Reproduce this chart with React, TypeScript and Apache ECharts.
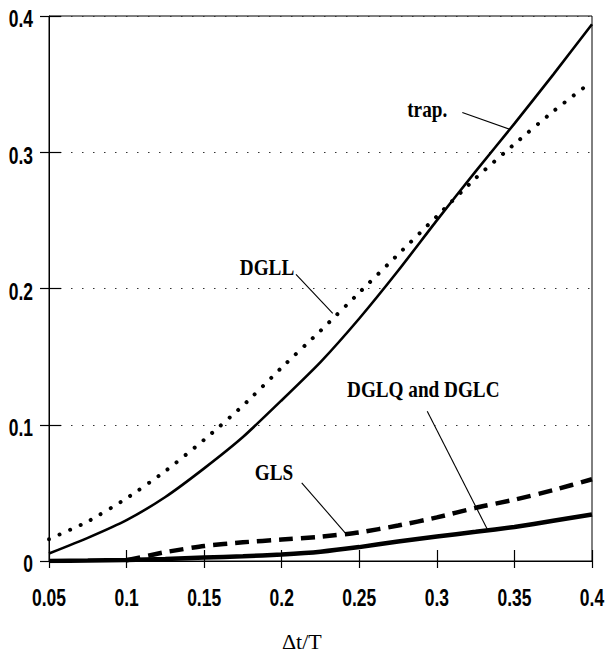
import React, { useEffect, useRef } from "react";
import * as echarts from "echarts";

// Δt/T sample positions
const xValues = [0.05, 0.075, 0.1, 0.125, 0.15, 0.175, 0.2, 0.225, 0.25, 0.275, 0.3, 0.325, 0.35, 0.375, 0.4];
// trapezoidal rule (thin solid)
const trapValues = [0.0055, 0.017, 0.03, 0.047, 0.068, 0.091, 0.118, 0.146, 0.178, 0.213, 0.25, 0.286, 0.321, 0.357, 0.394];
// DGLL (dotted)
const dgllValues = [0.016, 0.029, 0.046, 0.066, 0.089, 0.114, 0.142, 0.169, 0.197, 0.225, 0.253, 0.281, 0.306, 0.33, 0.352];
// GLS (dashed)
const glsValues = [null, null, 0.0005, 0.0065, 0.011, 0.0137, 0.0157, 0.0178, 0.021, 0.026, 0.032, 0.039, 0.045, 0.052, 0.06];
// DGLQ and DGLC (thick solid)
const dglqcValues = [0.0, 0.0003, 0.0008, 0.0015, 0.0025, 0.0035, 0.0048, 0.0068, 0.0102, 0.0143, 0.018, 0.0214, 0.025, 0.0295, 0.0341];

const xTickValues = [0.05, 0.1, 0.15, 0.2, 0.25, 0.3, 0.35, 0.4];
const xTickLabels = ["0.05", "0.1", "0.15", "0.2", "0.25", "0.3", "0.35", "0.4"];
const yTickValues = [0, 0.1, 0.2, 0.3, 0.4];
const yTickLabels = ["0", "0.1", "0.2", "0.3", "0.4"];
const xAxisTitle = "Δt/T";

// annotations (data coordinates)
const annotationTexts = ["trap.", "DGLL", "DGLQ and DGLC", "GLS"];
const annotationAt = [
  [0.2809, 0.3314],
  [0.173, 0.2154],
  [0.2421, 0.1259],
  [0.1827, 0.065],
];
const leaderFrom = [
  [0.3164, 0.3292],
  [0.2092, 0.2103],
  [0.2938, 0.1099],
  [0.2129, 0.0574],
];
const leaderTo = [
  [0.3474, 0.3167],
  [0.2329, 0.1817],
  [0.3326, 0.0231],
  [0.2409, 0.0207],
];

const pairs = (ys: (number | null)[]) =>
  xValues.map((x, i) => [x, ys[i]]).filter((p) => p[1] !== null);

const tickFont = "'Liberation Sans', Arial, sans-serif";
const serif = "'Liberation Serif', 'Times New Roman', serif";

export default function App() {
  const ref = useRef<HTMLDivElement>(null);

  useEffect(() => {
    if (!ref.current) return;
    const chart = echarts.init(ref.current, null, { renderer: "svg" });

    const baseX = {
      type: "value" as const,
      min: 0.05,
      max: 0.4,
      interval: 0.05,
      position: "bottom" as const,
      gridIndex: 0,
    };
    const baseY = {
      type: "value" as const,
      min: 0,
      max: 0.4,
      interval: 0.1,
      position: "left" as const,
      gridIndex: 0,
    };

    chart.setOption({
      animation: false,
      backgroundColor: "#fff",
      grid: {
        left: 49,
        right: 13,
        top: 16,
        bottom: 94,
        show: true,
        borderColor: "#000",
        borderWidth: 1,
        backgroundColor: "transparent",
      },
      xAxis: [
        {
          ...baseX,
          axisLine: { show: true, lineStyle: { color: "#000", width: 1 } },
          axisTick: { show: true, inside: false, length: 7, lineStyle: { color: "#000", width: 1.2 } },
          axisLabel: { show: false },
          splitLine: { show: false },
        },
        {
          ...baseX,
          axisLine: { show: false },
          axisTick: { show: true, inside: true, length: 11, lineStyle: { color: "#000", width: 1.2 } },
          axisLabel: { show: false },
          splitLine: { show: false },
        },
      ],
      yAxis: [
        {
          ...baseY,
          axisLine: { show: true, lineStyle: { color: "#000", width: 1 } },
          axisTick: { show: true, inside: false, length: 9, lineStyle: { color: "#000", width: 1.2 } },
          axisLabel: { show: false },
          splitLine: {
            show: true,
            lineStyle: { color: "#333", width: 1, type: [1.5, 9.5] },
          },
        },
        {
          ...baseY,
          axisLine: { show: false },
          axisTick: { show: true, inside: true, length: 12, lineStyle: { color: "#000", width: 1.2 } },
          axisLabel: { show: false },
          splitLine: { show: false },
        },
      ],
      series: [
        {
          name: "trap.",
          type: "line",
          xAxisIndex: 0,
          yAxisIndex: 0,
          data: pairs(trapValues),
          showSymbol: false,
          smooth: 0.2,
          lineStyle: { color: "#000", width: 2.6 },
        },
        {
          name: "DGLL",
          type: "line",
          xAxisIndex: 0,
          yAxisIndex: 0,
          data: pairs(dgllValues),
          showSymbol: false,
          smooth: 0.2,
          lineStyle: { color: "#000", width: 4, type: [0.01, 11.5], cap: "round" },
        },
        {
          name: "GLS",
          type: "line",
          xAxisIndex: 0,
          yAxisIndex: 0,
          data: pairs(glsValues),
          showSymbol: false,
          smooth: 0.2,
          lineStyle: { color: "#000", width: 4.5, type: [14, 8] },
        },
        {
          name: "DGLQ and DGLC",
          type: "line",
          xAxisIndex: 0,
          yAxisIndex: 0,
          data: pairs(dglqcValues),
          showSymbol: false,
          smooth: 0.2,
          lineStyle: { color: "#000", width: 4.5 },
        },
      ],
    });

    const toPx = (p: number[]) =>
      chart.convertToPixel({ xAxisIndex: 0, yAxisIndex: 0 }, p) as number[];

    const graphics: any[] = [];
    const origin = toPx([0.05, 0]);

    // tick labels (condensed bold sans)
    xTickValues.forEach((v, i) => {
      const p = toPx([v, 0]);
      graphics.push({
        type: "text",
        x: p[0],
        y: origin[1] + 37,
        scaleX: 0.76,
        style: {
          text: xTickLabels[i],
          x: 0,
          y: 0,
          fill: "#000",
          fontFamily: tickFont,
          fontWeight: "bold",
          fontSize: 23,
          align: "center",
          verticalAlign: "middle",
        },
      });
    });
    yTickValues.forEach((v, i) => {
      const p = toPx([0.05, v]);
      graphics.push({
        type: "text",
        x: origin[0] - 16,
        y: p[1] + 3.5,
        scaleX: 0.76,
        style: {
          text: yTickLabels[i],
          x: 0,
          y: 0,
          fill: "#000",
          fontFamily: tickFont,
          fontWeight: "bold",
          fontSize: 23,
          align: "right",
          verticalAlign: "middle",
        },
      });
    });

    annotationTexts.forEach((t, i) => {
      const a = toPx(annotationAt[i]);
      const f = toPx(leaderFrom[i]);
      const e = toPx(leaderTo[i]);
      graphics.push({
        type: "text",
        x: a[0],
        y: a[1],
        scaleX: 0.8,
        style: {
          text: t,
          x: 0,
          y: 0,
          fill: "#000",
          fontFamily: serif,
          fontWeight: "bold",
          fontSize: 24,
          align: "left",
          verticalAlign: "middle",
        },
      });
      graphics.push({
        type: "line",
        shape: { x1: f[0], y1: f[1], x2: e[0], y2: e[1] },
        style: { stroke: "#000", lineWidth: 1.1 },
      });
    });
    const xMid = toPx([0.213, 0])[0];
    graphics.push({
      type: "text",
      x: xMid,
      y: 641,
      style: {
        text: xAxisTitle,
        x: 0,
        y: 0,
        fill: "#000",
        fontFamily: serif,
        fontSize: 22,
        align: "center",
        verticalAlign: "middle",
      },
    });
    chart.setOption({ graphic: graphics });

    return () => chart.dispose();
  }, []);

  return (
    <div
      ref={ref}
      style={{ position: "fixed", left: 0, top: 0, width: 605, height: 655, background: "#fff" }}
    />
  );
}
